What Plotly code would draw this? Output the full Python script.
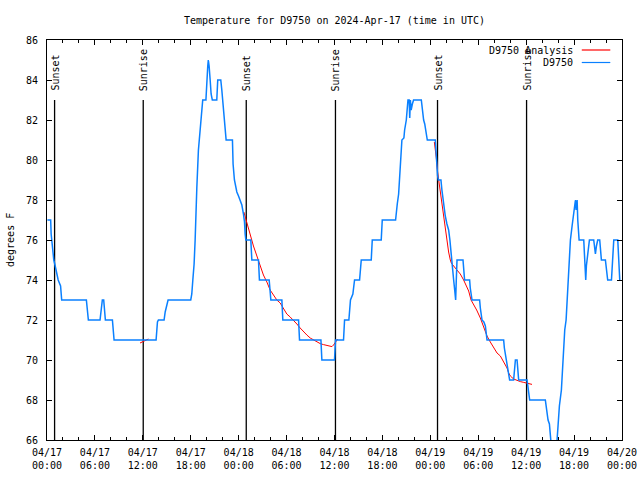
import pandas as pd
import plotly.graph_objects as go

BASE = pd.Timestamp("2024-04-17 00:00")

# ---- D9750 observed temperature (hours since 04/17 00:00 UTC, degrees F)
obs_hours = [
    0.05, 0.46, 0.52, 0.6, 0.7, 0.85, 1.0, 1.2, 1.4, 1.7, 1.84,
    4.93, 5.05, 5.18,
    6.64, 6.8, 6.93, 7.1, 7.2, 7.31,
    8.19, 8.3, 8.4,
    13.66, 13.83, 13.95, 14.66, 14.8, 14.95, 15.16,
    18.0, 18.13, 18.26, 18.42, 18.55, 18.63, 18.76, 18.96, 19.17, 19.38, 19.5,
    19.9, 20.0, 20.13, 20.2, 20.3, 20.43, 20.55, 20.7,
    21.26, 21.38, 21.76, 21.89, 22.01, 22.18, 22.3, 22.43,
    23.22, 23.3, 23.47, 23.64, 23.77, 23.98, 24.19, 24.4, 24.6, 24.73, 24.81, 24.9,
    25.52, 25.65,
    26.48, 26.6,
    27.82, 28.03,
    29.41, 29.53,
    31.5, 31.62,
    34.3, 34.42,
    36.0, 36.13,
    37.13, 37.26,
    37.8, 37.88, 38.0, 38.3, 38.51,
    39.14, 39.22, 39.35,
    40.6, 40.73,
    41.85, 41.98,
    43.65, 43.73, 43.86, 44.03, 44.15, 44.28, 44.44, 44.69, 44.78, 44.99, 45.11, 45.2,
    45.35, 45.42, 45.5, 45.6, 45.75, 45.9,
    46.87, 47.0, 47.16, 47.3, 47.49, 47.62,
    48.62, 48.75, 48.91, 49.0,
    49.33, 49.45, 49.58, 49.66, 49.87, 50.08, 50.29, 50.45, 50.55, 50.71, 50.8, 50.92,
    51.05, 51.17, 51.25, 51.34,
    52.09, 52.2, 52.29,
    52.92, 53.0, 53.22,
    54.17, 54.26, 54.47, 54.7, 54.89, 55.1,
    57.18, 57.27, 57.39, 57.52, 57.7, 57.93,
    58.43, 58.55, 58.65, 58.86, 58.98, 59.06,
    60.11, 60.25, 60.44,
    62.4, 62.53, 62.74, 62.91, 63.05, 63.3, 63.7, 63.87, 64.16, 64.41, 64.58, 64.7,
    64.83, 65.0, 65.12, 65.25, 65.41, 65.54, 65.75, 65.95, 66.17, 66.25, 66.38, 66.46, 66.63,
    67.21, 67.33, 67.46, 67.54, 67.71, 67.92,
    68.46, 68.55, 68.67, 68.8, 68.96,
    69.21, 69.3, 69.42,
    69.92, 70.05, 70.21,
    70.68, 70.76, 70.89, 70.97,
    71.47, 71.6, 71.72,
]
obs_temps = [
    77, 77, 76.3, 76, 75.3, 75, 74.75, 74.3, 74, 73.7, 73,
    73, 72.6, 72,
    72, 72.8, 73, 73, 72.3, 72,
    72, 71.5, 71,
    71, 71.9, 72, 72, 72.4, 72.7, 73,
    73, 73.3, 74, 74.8, 76, 77.3, 78.6, 80.5, 81.6, 82.8, 83,
    83, 84, 84.7, 85, 84.7, 84.0, 83.3, 83,
    83, 84, 84, 83.5, 83, 82.3, 81.5, 81,
    81, 79.8, 79.0, 78.7, 78.4, 78.2, 78.0, 77.75, 77.3, 76.9, 76.3, 76,
    76, 75,
    75, 74,
    74, 73,
    73, 72,
    72, 71,
    71, 70,
    70, 71,
    71, 72,
    72, 72.7, 73, 73.3, 74,
    74, 74.5, 75,
    75, 76,
    76, 77,
    77, 77.5, 77.8, 78.3, 79.0, 80.2, 81, 81.1, 81.5, 82.0, 82.4, 83,
    83, 82.1, 83, 82.5, 82.8, 83,
    83, 82.5, 82, 81.8, 81.4, 81,
    81, 80.0, 79.2, 79,
    79, 78.5, 78.1, 77.7, 77.2, 76.8, 76.5, 76, 75.5, 75, 74.5, 74,
    73.5, 73, 74, 75,
    75, 74.5, 74,
    74, 73.6, 73,
    73, 72.6, 72, 71.9, 71.7, 71,
    71, 70.6, 70.3, 70, 69.5, 69,
    69, 69.5, 70, 70, 69.5, 69,
    69, 68.5, 68,
    68, 67.5, 67, 66.8, 66, 65, 65, 66, 67.7, 68.5, 69.7, 71,
    71.5, 72, 72.8, 74, 74.8, 76, 76.7, 77.3, 78, 77.5, 78, 77, 76,
    76, 75, 74, 74.7, 75.3, 76,
    76, 75.5, 75.3, 75.7, 76,
    76, 75.5, 75,
    75, 74.5, 74,
    74, 74.5, 75.3, 76,
    76, 75, 74,
]

# ---- D9750 analysis (None separates the nightly segments)
ana_hours = [
    11.65, 12.0, 12.35, 12.7, None,
    24.65, 25.02, 25.44, 25.85, 26.28, 26.69, 27.1, 27.53, 27.94, 28.36, 28.78, 29.2,
    29.61, 30.03, 30.45, 30.86, 31.29, 31.7, 32.12, 32.54, 32.96, 33.37, 33.79, 34.21,
    34.62, 35.05, 35.46, 35.68, 35.88, 36.09, 36.4, None,
    48.5, 48.62, 48.75, 48.91, 49.04, 49.16, 49.33, 49.46, 49.58, 49.75, 49.87, 50.0,
    50.17, 50.29, 50.5, 50.63, 50.92, 51.34, 51.75, 52.17, 52.5, 52.8, 53.1, 53.42, 53.8,
    54.26, 54.7, 55.1, 55.51, 55.93, 56.35, 56.77, 57.18, 57.6, 57.81, 58.02, 58.43,
    58.85, 59.27, 59.7, 60.11, 60.5, 60.73,
]
ana_temps = [
    70.85, 70.92, 71.0, 71.05, None,
    77.4, 76.85, 76.25, 75.7, 75.2, 74.7, 74.25, 73.9, 73.5, 73.25, 73.0, 72.85,
    72.55, 72.3, 72.15, 72.0, 71.8, 71.6, 71.4, 71.25, 71.1, 71.0, 70.9, 70.82,
    70.77, 70.74, 70.7, 70.67, 70.75, 70.9, 71.05, None,
    80.9, 80.6, 80.1, 79.4, 79.0, 78.6, 78.2, 77.8, 77.35, 76.8, 76.4, 76.0,
    75.7, 75.4, 75.0, 74.85, 74.7, 74.5, 74.3, 74.0, 73.75, 73.45, 73.0, 72.8, 72.5,
    72.1, 71.6, 71.2, 70.9, 70.6, 70.35, 70.2, 69.9, 69.6, 69.35, 69.2, 69.05,
    68.98, 68.92, 68.88, 68.85, 68.8, 68.78,
]

# ---- sun events (hours since 04/17 00:00 UTC)
sun_labels = ["Sunset", "Sunrise", "Sunset", "Sunrise", "Sunset", "Sunrise"]
sun_hours = [0.95, 12.05, 24.95, 36.12, 48.9, 60.05]

title_text = "Temperature for D9750 on 2024-Apr-17 (time in UTC)"
y_title = "degrees F"
legend_names = ["D9750 Analysis", "D9750"]

RED = "#ff0000"
BLUE = "#0a80ff"
FONT = "DejaVu Sans Mono"


def to_time(hours):
    return [None if h is None else BASE + pd.Timedelta(hours=h) for h in hours]


fig = go.Figure()
fig.add_trace(go.Scatter(x=to_time(ana_hours), y=ana_temps, mode="lines",
                         name=legend_names[0], line=dict(color=RED, width=1),
                         connectgaps=False))
fig.add_trace(go.Scatter(x=to_time(obs_hours), y=obs_temps, mode="lines",
                         name=legend_names[1], line=dict(color=BLUE, width=1.5)))

for lab, h in zip(sun_labels, sun_hours):
    t = BASE + pd.Timedelta(hours=h)
    fig.add_shape(type="line", xref="x", yref="y", x0=t, x1=t, y0=66, y1=83,
                  line=dict(color="black", width=1.3), layer="below")
    fig.add_annotation(x=t, y=83.35, xref="x", yref="y", text=lab, textangle=-90,
                       showarrow=False, xanchor="center", yanchor="bottom",
                       font=dict(family=FONT, size=10, color="black"))

# legend drawn gnuplot-style: text right-aligned, sample line to its right
L, W, T, H = 47, 574.7, 40, 400
def px_x(p): return (p - L) / W
def px_y(p): return (T + H - p) / H
for name, col, py in [(legend_names[0], RED, 50), (legend_names[1], BLUE, 62.5)]:
    fig.add_annotation(x=px_x(575), y=px_y(py), xref="paper", yref="paper", text=name,
                       showarrow=False, xanchor="right", yanchor="middle",
                       font=dict(family=FONT, size=10, color="black"))
    fig.add_shape(type="line", xref="paper", yref="paper", x0=px_x(581.5), x1=px_x(610),
                  y0=px_y(py), y1=px_y(py), line=dict(color=col, width=1.2))

# y-axis title, placed like gnuplot's
fig.add_annotation(x=px_x(10), y=0.5, xref="paper", yref="paper", text=y_title,
                   textangle=-90, showarrow=False, xanchor="center", yanchor="middle",
                   font=dict(family=FONT, size=10, color="black"))

fig.update_layout(
    width=640, height=480,
    margin=dict(l=47, r=18, t=40, b=40, autoexpand=False),
    plot_bgcolor="white", paper_bgcolor="white",
    showlegend=False,
    font=dict(family=FONT, size=10, color="black"),
    title=dict(text=title_text, x=0.5, xref="paper", xanchor="center",
               y=1 - 20 / 480, yref="container", yanchor="middle",
               font=dict(family=FONT, size=10, color="black")),
)
fig.update_xaxes(
    type="date", automargin=False,
    range=[BASE, BASE + pd.Timedelta(hours=72)],
    tick0=BASE, dtick=6 * 3600 * 1000,
    tickformat="%m/%d<br>%H:%M",
    ticks="inside", ticklen=5, tickcolor="black", tickwidth=1,
    ticklabelstandoff=3,
    showline=True, linecolor="black", linewidth=1, mirror="ticks",
    showgrid=False, zeroline=False,
    minor=dict(dtick=2 * 3600 * 1000, ticks="inside", ticklen=3,
               tickcolor="black", showgrid=False),
    tickfont=dict(family=FONT, size=10, color="black"),
)
fig.update_yaxes(
    automargin=False,
    range=[66, 86], dtick=2, tick0=66,
    ticks="inside", ticklen=5, tickcolor="black", tickwidth=1,
    ticklabelstandoff=6,
    showline=True, linecolor="black", linewidth=1, mirror="ticks",
    showgrid=False, zeroline=False,
    tickfont=dict(family=FONT, size=10, color="black"),
)

fig.write_html("out.html", config={"displayModeBar": False},
               post_script="document.body.style.margin='0';")
